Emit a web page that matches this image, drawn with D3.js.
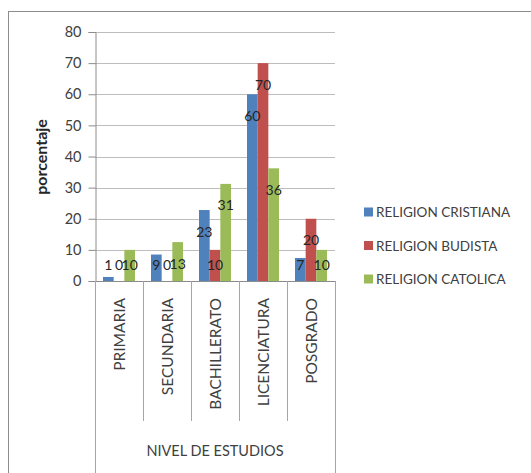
<!DOCTYPE html>
<html><head><meta charset="utf-8">
<script src="https://cdn.jsdelivr.net/npm/d3@7"></script>
<style>body{margin:0;background:#fff;}svg{display:block;font-family:Lato,"Open Sans",sans-serif;}</style>
</head><body>
<svg id="c" width="531" height="473"></svg>
<script>
const categories = ["PRIMARIA","SECUNDARIA","BACHILLERATO","LICENCIATURA","POSGRADO"];
const seriesNames = ["RELIGION CRISTIANA","RELIGION BUDISTA","RELIGION CATOLICA"];
const cristiana = [1.3, 8.5, 22.8, 60, 7.4];
const budista = [0, 0, 10, 70, 20];
const catolica = [10, 12.5, 31.2, 36.2, 10];
const colors = ["#4f81bd","#c0504d","#9bbb59"];
const yTicks = [0,10,20,30,40,50,60,70,80];
const yTitle = "porcentaje";
const xTitle = "NIVEL DE ESTUDIOS";

const series = [cristiana, budista, catolica];
const svg = d3.select("#c");

// outer border
svg.append("rect").attr("x",8.5).attr("y",11.5).attr("width",540).attr("height",500)
  .attr("fill","none").attr("stroke","#8c8c8c");

const y = d3.scaleLinear().domain([0,80]).range([281,32]);
const x = d3.scaleBand().domain(categories).range([95,335]);
const xs = d3.scaleBand().domain(d3.range(3)).range([8,40]);

// gridlines
svg.append("g").selectAll("line").data(yTicks.filter(t=>t>0)).join("line")
  .attr("x1",95).attr("x2",335).attr("y1",d=>Math.round(y(d))+0.5).attr("y2",d=>Math.round(y(d))+0.5)
  .attr("stroke","#bdbdbd");

// y axis
const yAxis = svg.append("g").attr("transform","translate(95.5,0)")
  .call(d3.axisLeft(y).tickValues(yTicks).tickSize(7).tickPadding(7).tickFormat(d3.format("d")));
yAxis.select(".domain").attr("stroke","#8c8c8c");
yAxis.selectAll(".tick line").attr("stroke","#8c8c8c");
yAxis.selectAll(".tick text").attr("font-size",14.5).attr("fill","#404040").attr("font-family","Lato,sans-serif");

// bars
const g = svg.append("g");
series.forEach((vals,si)=>{
  g.append("g").selectAll("rect").data(vals).join("rect")
    .attr("x",(d,i)=>x(categories[i])+xs(si))
    .attr("width",xs.bandwidth())
    .attr("y",d=>y(d))
    .attr("height",d=>y(0)-y(d))
    .attr("fill",colors[si]);
});

// x axis baseline
svg.append("line").attr("x1",95).attr("x2",335).attr("y1",281.5).attr("y2",281.5).attr("stroke","#8c8c8c");

// category dividers
const edges = categories.map(c=>x(c)).concat([335]);
svg.append("g").selectAll("line").data(edges).join("line")
  .attr("x1",d=>d+0.5).attr("x2",d=>d+0.5)
  .attr("y1",281).attr("y2",(d,i)=>(i===0||i===edges.length-1)?480:421)
  .attr("stroke","#a6a6a6");

// data labels
series.forEach((vals,si)=>{
  g.append("g").selectAll("text").data(vals).join("text")
    .attr("x",(d,i)=>x(categories[i])+xs(si)+xs.bandwidth()/2)
    .attr("y",d=>Math.min(y(d)+21, y(0)-17))
    .attr("text-anchor","middle").attr("dominant-baseline","central")
    .attr("font-size",14).attr("fill","#262626")
    .text(d=>Math.round(d));
});

// category labels
svg.append("g").selectAll("text").data(categories).join("text")
  .attr("transform",d=>`translate(${x(d)+x.bandwidth()/2+6},298) rotate(-90)`)
  .attr("text-anchor","end").attr("font-size",15.5).attr("fill","#404040")
  .text(d=>d);

// x title
svg.append("text").attr("x",215).attr("y",456).attr("text-anchor","middle")
  .attr("font-size",14.5).attr("fill","#404040").text(xTitle);

// y title
svg.append("text").attr("transform","translate(47,157) rotate(-90)")
  .attr("text-anchor","middle").attr("font-size",16).attr("font-weight","bold")
  .attr("fill","#262626").text(yTitle);

// legend
const lg = svg.append("g");
seriesNames.forEach((n,i)=>{
  const ly = 212 + i*33.5;
  lg.append("rect").attr("x",364).attr("y",ly-4.5).attr("width",9).attr("height",9).attr("fill",colors[i]);
  lg.append("text").attr("x",376).attr("y",ly).attr("dominant-baseline","central")
    .attr("font-size",13.5).attr("fill","#404040").text(n);
});
</script>
</body></html>
